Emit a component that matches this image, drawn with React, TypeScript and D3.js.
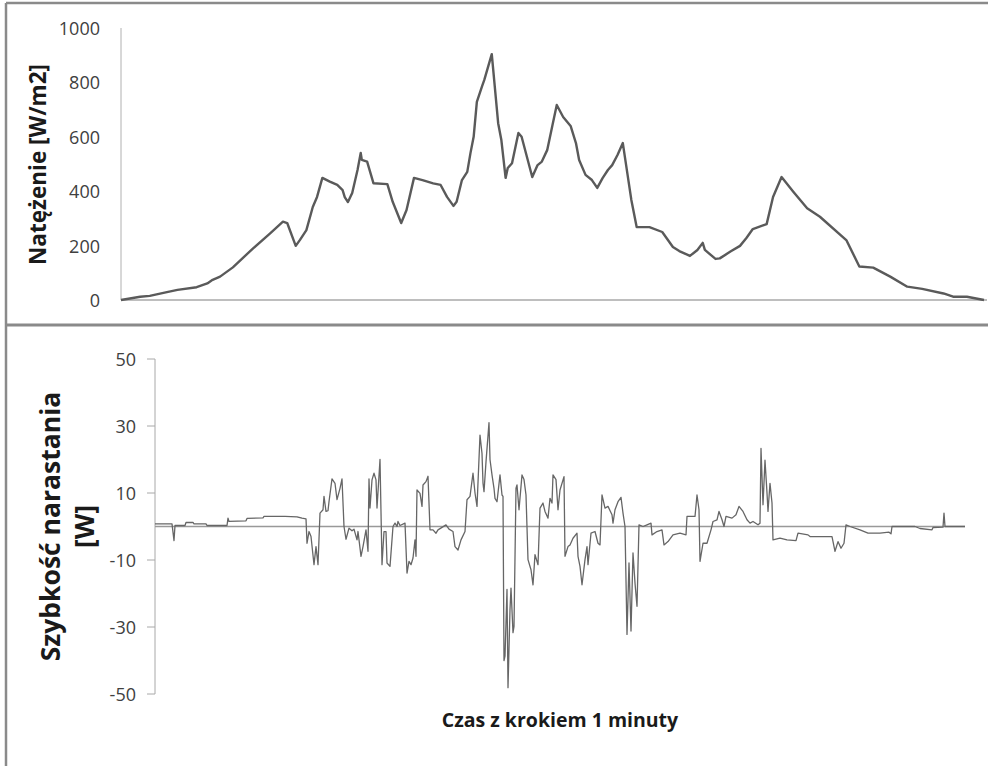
import React from "react";
import * as d3 from "d3";

// Irradiance over the day: minute index and value [W/m2]
const irrMinutes = [
  0, 18, 27, 42, 53, 71, 81, 86, 93, 105, 124, 140, 152, 156, 164, 168, 174, 180, 184, 189,
  196, 203, 208, 210, 213, 217, 222, 225, 226, 231, 237, 250, 255, 263, 268, 275, 283, 293, 300, 306,
  312, 315, 320, 325, 328, 331, 334, 339, 341, 348, 354, 357, 361, 363, 367, 373, 376, 386, 391, 395,
  400, 405, 409, 415, 422, 427, 430, 436, 442, 447, 452, 457, 461, 466, 471, 479, 484, 496, 508, 518,
  524, 534, 541, 546, 548, 558, 562, 572, 581, 587, 593, 606, 612, 620, 631, 644, 656, 681, 693, 706,
  722, 738, 752, 772, 781, 794, 810,
];
const irradiance = [
  0, 12, 15, 28, 37, 47, 61, 74, 86, 120, 190, 245, 288, 283, 199, 221, 257, 342, 379, 449,
  435, 423, 404, 378, 360, 393, 478, 541, 515, 509, 429, 426, 361, 283, 331, 449, 441, 429, 423, 379,
  346, 361, 441, 471, 540, 600, 728, 787, 809, 904, 650, 588, 449, 485, 503, 614, 600, 452, 496, 509,
  551, 643, 717, 673, 640, 577, 515, 460, 441, 412, 448, 478, 496, 533, 577, 368, 268, 268, 250, 195,
  180, 162, 184, 210, 184, 151, 153, 178, 199, 228, 261, 279, 379, 452, 398, 337, 306, 219, 123, 119,
  86, 49, 41, 24, 12, 12, 0,
];

// Rate of change: minute index and value [W]
const rateMinutes = [
  0, 17, 19, 20, 30, 31, 38, 39, 51, 52, 72, 73, 74, 91, 92, 108, 109, 130, 142, 147,
  151, 152, 154, 156, 159, 161, 163, 165, 168, 169, 171, 173, 174, 177, 180, 182, 185, 187, 189, 191,
  194, 197, 199, 202, 203, 206, 208, 211, 213, 214, 215, 217, 219, 221, 222, 225, 227, 229, 231, 232,
  235, 238, 240, 242, 243, 245, 250, 252, 254, 256, 258, 260, 261, 262, 265, 267, 268, 271, 273, 275,
  278, 281, 283, 291, 294, 298, 300, 303, 306, 310, 312, 315, 318, 320, 322, 325, 327, 328, 329, 331,
  334, 335, 337, 339, 340, 342, 345, 347, 348, 349, 350, 352, 353, 355, 356, 358, 359, 361, 362, 364,
  367, 369, 371, 373, 376, 378, 380, 383, 385, 388, 390, 393, 395, 397, 398, 401, 403, 405, 409, 410,
  413, 415, 418, 422, 423, 425, 427, 430, 432, 433, 436, 440, 443, 445, 447, 450, 453, 457, 458, 460,
  463, 466, 468, 470, 472, 474, 476, 478, 480, 482, 484, 488, 492, 496, 497, 502, 507, 509, 513, 518,
  525, 531, 532, 536, 540, 542, 544, 545, 548, 552, 556, 558, 562, 564, 567, 569, 571, 577, 581, 584,
  588, 592, 595, 598, 603, 605, 606, 608, 610, 612, 613, 615, 617, 618, 625, 632, 641, 643, 653, 655,
  677, 680, 683, 686, 689, 691, 695, 705, 713, 725, 734, 736, 737, 760, 765, 777, 778, 788, 789, 790,
  810,
];
const rate = [
  0.8, 0.8, -4.2, 0.3, 0.3, 1.2, 1.2, 0.8, 0.8, 0.3, 0.3, 2.5, 1.5, 1.7, 2.4, 2.6, 3.0, 3.0, 2.9, 2.5,
  2.3, -5, -1.5, -3, -11.4, -6, -11.4, 4, 5, 9, 4.5, 4.7, 7.4, 14.2, 12.9, 8, 11.4, 14.2, 0, -3.8,
  -0.5, -1.3, -0.8, -4, -1.5, -8.9, -6, -1, -7.4, 14.2, 5.5, 13.9, 15.9, 13.9, 5.5, 20, -11.4, -1.5, -1.5, -10.9,
  -11.9, 0, 1, 0, 1.5, 0.3, 1, -13.9, -10.4, -11.4, -9.4, -4, -8.9, 10.9, 9.9, 6, 12.4, 13.4, 15, -1,
  -1, -2, -1, 0.5, -0.8, -1.5, -6, -7, -4, -1.5, 8, 9, 15.9, 10, 6, 27.3, 21.8, 12.9, 10.4, 19.3,
  31, 20, 15.4, 11.4, 8.4, 7.4, 15.4, 9.4, 9, -40, -38.7, -18.8, -48.1, -24.8, -18.4, -31.7, -29.8, 11.4, 12.4, 5,
  15.4, 14, 9.4, -9.9, -12.9, -17.4, -8.4, -11.4, 5.5, 7, 4.5, 2.5, 8.4, 7, 15.4, 14, 5, 10.9, 14.9, -8.9,
  -6, -5.5, -3.5, -2, -8.9, -11.9, -17.4, -9.9, -6, -11.4, -2, -1.5, -5, -5.5, 9.4, 5.5, 6, 3.5, 1, 5,
  7.4, 8.7, 4, 0, -32.2, -10.9, -31.2, -7.9, -16.9, -23.8, 0.5, 0, 0.5, 1, -2.5, -1.5, -1, -5.5, -4.5, -2.5,
  -2, -2.5, 3, 3, 3, 9.4, 5, -10.4, -5, -5, -1, 1.5, 2, 4.5, 2, 0, 3, 2.5, 3.5, 6,
  4.5, 2, 1, 1.5, 0.5, 1, 23.3, 6.5, 19.8, 10, 4.5, 12.9, 7, -4, -3.5, -4, -4.2, -2, -2.5, -3,
  -3, -7.4, -4.5, -6.5, -5, 0.5, 0, -1, -2, -2, -1.7, -2.2, 0, 0, -0.6, -1, -0.3, -0.2, 4, 0,
  0,
];

const irrTicks = [0, 200, 400, 600, 800, 1000];
const rateTicks = [-50, -30, -10, 10, 30, 50];

const W = 988;
const H = 766;
const FONT = "'Open Sans', 'Liberation Sans', sans-serif";
const TEXT = "#404040";

export default function App() {
  const xTop = d3.scaleLinear().domain([0, 810]).range([121, 984]);
  const yTop = d3.scaleLinear().domain([0, 1000]).range([300, 28]);
  const xRate = d3.scaleLinear().domain([0, 810]).range([155, 965]);
  const yRate = d3.scaleLinear().domain([-50, 50]).range([694, 359]);

  const irrPts: [number, number][] = irrMinutes.map((m, i) => [m, irradiance[i]]);
  const ratePts: [number, number][] = rateMinutes.map((m, i) => [m, rate[i]]);

  const irrLine = d3
    .line<[number, number]>()
    .x((d) => xTop(d[0]))
    .y((d) => yTop(d[1]));
  const rateLine = d3
    .line<[number, number]>()
    .x((d) => xRate(d[0]))
    .y((d) => yRate(d[1]));

  return (
    <svg
      width={W}
      height={H}
      style={{ position: "absolute", left: 0, top: 0, background: "#fff" }}
      fontFamily={FONT}
    >
      <rect x={0} y={0} width={W} height={H} fill="#fff" />

      {/* panel frames */}
      <line x1={6} y1={3} x2={W} y2={3} stroke="#8a8a8a" strokeWidth={2.5} />
      <line x1={6} y1={3} x2={6} y2={H} stroke="#8a8a8a" strokeWidth={2.5} />
      <line x1={6} y1={325} x2={W} y2={325} stroke="#8a8a8a" strokeWidth={3} />

      {/* upper panel: irradiance */}
      <line x1={xTop(0)} y1={yTop(1000)} x2={xTop(0)} y2={yTop(0)} stroke="#b0b0b0" strokeWidth={1} />
      <line x1={xTop(0)} y1={yTop(0)} x2={987} y2={yTop(0)} stroke="#a8a8a8" strokeWidth={1.5} />
      {irrTicks.map((t) => (
        <text
          key={t}
          x={100}
          y={yTop(t)}
          textAnchor="end"
          dominantBaseline="central"
          fontSize={18}
          fill={TEXT}
        >
          {t}
        </text>
      ))}
      <text
        transform={`translate(46, ${yTop(500) + 0.5}) rotate(-90)`}
        textAnchor="middle"
        fontSize={22.5}
        fontWeight="bold"
        fill="#1a1a1a"
      >
        Natężenie [W/m2]
      </text>
      <path d={irrLine(irrPts) ?? ""} fill="none" stroke="#5a5a5a" strokeWidth={2.4} strokeLinejoin="round" />

      {/* lower panel: rate of change */}
      <line x1={xRate(0)} y1={yRate(50)} x2={xRate(0)} y2={yRate(-50)} stroke="#a8a8a8" strokeWidth={1} />
      {rateTicks.map((t) => (
        <g key={t}>
          <line x1={147} y1={yRate(t)} x2={xRate(0)} y2={yRate(t)} stroke="#a8a8a8" strokeWidth={1} />
          <text
            x={136}
            y={yRate(t)}
            textAnchor="end"
            dominantBaseline="central"
            fontSize={18}
            fill={TEXT}
          >
            {t}
          </text>
        </g>
      ))}
      <line x1={xRate(0)} y1={yRate(0)} x2={xRate(810)} y2={yRate(0)} stroke="#999" strokeWidth={1.5} />
      <path d={rateLine(ratePts) ?? ""} fill="none" stroke="#666" strokeWidth={1.3} strokeLinejoin="round" />

      <text
        transform={`translate(60, ${yRate(0)}) rotate(-90)`}
        textAnchor="middle"
        fontSize={26.5}
        fontWeight="bold"
        fill="#1a1a1a"
      >
        Szybkość narastania
      </text>
      <text
        transform={`translate(94, ${yRate(0)}) rotate(-90)`}
        textAnchor="middle"
        fontSize={26.5}
        fontWeight="bold"
        fill="#1a1a1a"
      >
        [W]
      </text>
      <text x={560} y={727} textAnchor="middle" fontSize={19.5} fontWeight="bold" fill="#1a1a1a">
        Czas z krokiem 1 minuty
      </text>
    </svg>
  );
}
